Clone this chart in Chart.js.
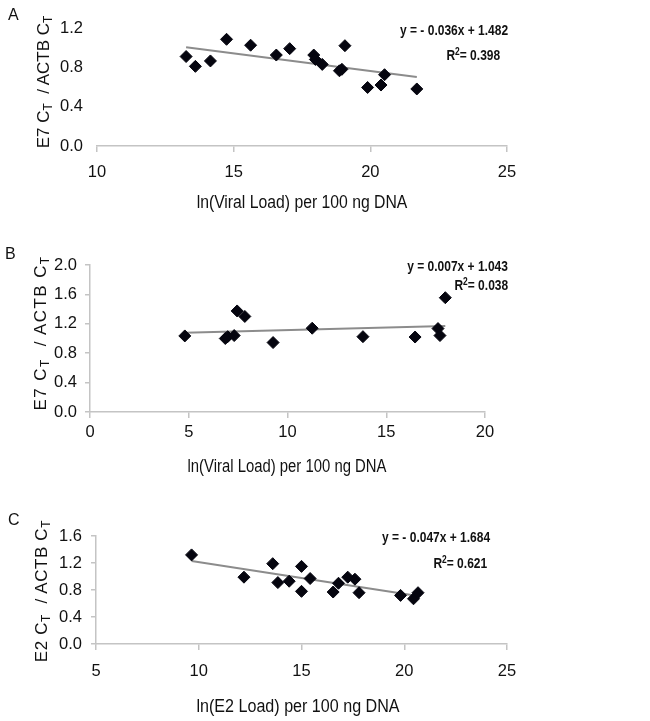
<!DOCTYPE html>
<html>
<head>
<meta charset="utf-8">
<script src="https://cdn.jsdelivr.net/npm/chart.js@4.4.1/dist/chart.umd.min.js"></script>
<style>
  body { margin: 0; background: #fff; font-family: "Liberation Sans", Arial, sans-serif; color: #111; }
  #page { position: relative; width: 650px; height: 721px; overflow: hidden; }
  .panel { position: absolute; left: 0; width: 650px; }
  .t { position: absolute; white-space: nowrap; line-height: 1; }
  .letter { font-size: 16px; }
  .ytitle { font-size: 17px; transform: translate(-50%, -50%) rotate(-90deg); }
  .ytitle sub { font-size: 0.7em; vertical-align: -0.3em; }
  .xtitle { font-size: 17.5px; }
  .eq { font-size: 15px; font-weight: bold; transform-origin: right center; }
  .eq sup { font-size: 0.7em; vertical-align: 0.5em; }
</style>
</head>
<body>
<div id="page">
  <div class="panel" style="top:0;height:240px"><canvas id="chartA"></canvas></div>
  <div class="panel" style="top:240px;height:240px"><canvas id="chartB"></canvas></div>
  <div class="panel" style="top:480px;height:241px"><canvas id="chartC"></canvas></div>

  <div class="t letter" style="left:8px;top:7px">A</div>
  <div class="t letter" style="left:5px;top:246px">B</div>
  <div class="t letter" style="left:8px;top:512px">C</div>

  <div class="t ytitle" style="left:45px;top:82px">E7 C<sub>T</sub>&nbsp; / ACTB C<sub>T</sub></div>
  <div class="t ytitle" style="left:42px;top:333px;letter-spacing:1.4px">E7 C<sub>T</sub>&nbsp; / ACTB C<sub>T</sub></div>
  <div class="t ytitle" style="left:43px;top:591px;letter-spacing:0.6px">E2 C<sub>T</sub>&nbsp; / ACTB C<sub>T</sub></div>

  <div class="t xtitle" style="left:302px;top:203px;transform:translate(-50%,-50%) scaleX(0.9)">ln(Viral Load) per 100 ng DNA</div>
  <div class="t xtitle" style="left:287px;top:467px;transform:translate(-50%,-50%) scaleX(0.85)">ln(Viral Load) per 100 ng DNA</div>
  <div class="t xtitle" style="left:298px;top:707px;transform:translate(-50%,-50%) scaleX(0.92)">ln(E2 Load) per 100 ng DNA</div>

  <div class="t eq" id="eqA1" style="right:142px;top:29px;transform:translateY(-50%) scaleX(0.8)"></div>
  <div class="t eq" id="eqA2" style="right:150px;top:54px;transform:translateY(-50%) scaleX(0.8)"></div>
  <div class="t eq" id="eqB1" style="right:142px;top:265px;transform:translateY(-50%) scaleX(0.8)"></div>
  <div class="t eq" id="eqB2" style="right:142px;top:284px;transform:translateY(-50%) scaleX(0.8)"></div>
  <div class="t eq" id="eqC1" style="right:160px;top:536px;transform:translateY(-50%) scaleX(0.8)"></div>
  <div class="t eq" id="eqC2" style="right:163px;top:562px;transform:translateY(-50%) scaleX(0.8)"></div>
</div>
<script>
// panel A: E7 ratio vs ln(viral load)
const loadA = [13.26, 13.6, 14.15, 14.74, 15.62, 16.56, 17.05, 17.93, 17.99, 18.24, 18.87, 18.96, 19.07, 19.9, 20.39, 20.52, 21.7];
const ratioA = [0.91, 0.81, 0.865, 1.085, 1.025, 0.925, 0.99, 0.925, 0.88, 0.83, 0.765, 0.78, 1.02, 0.595, 0.62, 0.725, 0.58];
const slopeA = -0.036, interceptA = 1.482, r2A = 0.398;
const xTicksA = [10, 15, 20, 25];
const yTicksA = [0, 0.4, 0.8, 1.2];

// panel B
const loadB = [4.8, 6.85, 6.97, 7.3, 7.45, 7.84, 9.27, 11.25, 13.82, 16.46, 17.62, 17.72, 17.99];
const ratioB = [1.035, 1.0, 1.025, 1.04, 1.375, 1.3, 0.945, 1.14, 1.025, 1.02, 1.135, 1.04, 1.555];
const slopeB = 0.007, interceptB = 1.043, r2B = 0.038;
const xTicksB = [0, 5, 10, 15, 20];
const yTicksB = [0, 0.4, 0.8, 1.2, 1.6, 2.0];

// panel C: E2 ratio vs ln(E2 load)
const loadC = [9.65, 12.2, 13.6, 13.85, 14.4, 15.0, 15.0, 15.42, 16.54, 16.8, 17.25, 17.6, 17.8, 19.82, 20.45, 20.67];
const ratioC = [1.32, 0.99, 1.19, 0.91, 0.93, 1.15, 0.78, 0.97, 0.77, 0.9, 0.99, 0.96, 0.76, 0.72, 0.67, 0.76];
const slopeC = -0.047, interceptC = 1.684, r2C = 0.621;
const xTicksC = [5, 10, 15, 20, 25];
const yTicksC = [0, 0.4, 0.8, 1.2, 1.6];

const axisGray = '#c4c4c4';
const tickFont = { family: '"Liberation Sans", Arial, sans-serif', size: 16.5 };

function eqText(m, b) {
  const sign = m < 0 ? '- ' : '';
  return 'y = ' + sign + Math.abs(m).toFixed(3) + 'x + ' + b.toFixed(3);
}

function scatterPanel(id, xs, ys, m, b, xTicks, yTicks, box) {
  const pts = xs.map((x, i) => ({ x: x, y: ys[i] }));
  const lo = Math.min(...xs), hi = Math.max(...xs);
  const trend = [{ x: lo, y: m * lo + b }, { x: hi, y: m * hi + b }];
  const canvas = document.getElementById(id);
  const h = canvas.parentNode.clientHeight;

  new Chart(canvas.getContext('2d'), {
    type: 'scatter',
    data: {
      datasets: [
        { data: pts, pointStyle: 'rectRot', pointRadius: 6, backgroundColor: '#05050f', borderColor: '#05050f', borderWidth: 1, order: 0 },
        { data: trend, showLine: true, pointRadius: 0, borderColor: '#8c8c8c', borderWidth: 2, order: 1 }
      ]
    },
    options: {
      responsive: true,
      maintainAspectRatio: false,
      animation: false,
      layout: { padding: { left: 0, top: box.top, right: 650 - box.right, bottom: 0 } },
      plugins: { legend: { display: false }, tooltip: { enabled: false } },
      scales: {
        x: {
          type: 'linear',
          min: xTicks[0],
          max: xTicks[xTicks.length - 1],
          afterBuildTicks: s => { s.ticks = xTicks.map(v => ({ value: v })); },
          afterFit: s => { s.height = h - box.bottom; },
          grid: { display: true, drawOnChartArea: false, tickLength: 6, color: axisGray, lineWidth: 1.5 },
          border: { display: true, color: axisGray, width: 1.5 },
          ticks: { padding: box.xPad, color: '#111', font: tickFont, callback: v => String(v) }
        },
        y: {
          type: 'linear',
          min: yTicks[0],
          max: yTicks[yTicks.length - 1],
          afterBuildTicks: s => { s.ticks = yTicks.map(v => ({ value: v })); },
          afterFit: s => { s.width = box.left; },
          grid: { display: box.yAxis, drawOnChartArea: false, drawTicks: box.yAxis, tickLength: 5, color: axisGray, lineWidth: 1.5 },
          border: { display: box.yAxis, color: axisGray, width: 1.5 },
          ticks: { padding: box.yPad, color: '#111', font: tickFont, callback: v => v.toFixed(1) }
        }
      }
    }
  });
}

scatterPanel('chartA', loadA, ratioA, slopeA, interceptA, xTicksA, yTicksA,
  { left: 97, right: 507, top: 28, bottom: 146, xPad: 11, yPad: 14, yAxis: false });
scatterPanel('chartB', loadB, ratioB, slopeB, interceptB, xTicksB, yTicksB,
  { left: 90, right: 485, top: 25, bottom: 172, xPad: 5, yPad: 8, yAxis: true });
scatterPanel('chartC', loadC, ratioC, slopeC, interceptC, xTicksC, yTicksC,
  { left: 96, right: 507, top: 56, bottom: 164, xPad: 12, yPad: 9, yAxis: true });

document.getElementById('eqA1').textContent = eqText(slopeA, interceptA);
document.getElementById('eqA2').innerHTML = 'R<sup>2</sup>= ' + r2A.toFixed(3);
document.getElementById('eqB1').textContent = eqText(slopeB, interceptB);
document.getElementById('eqB2').innerHTML = 'R<sup>2</sup>= ' + r2B.toFixed(3);
document.getElementById('eqC1').textContent = eqText(slopeC, interceptC);
document.getElementById('eqC2').innerHTML = 'R<sup>2</sup>= ' + r2C.toFixed(3);
</script>
</body>
</html>
